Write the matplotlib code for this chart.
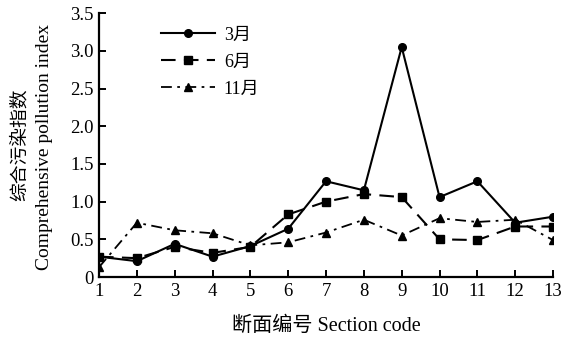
import numpy as np
import matplotlib
matplotlib.use('Agg')
import matplotlib.pyplot as plt
from matplotlib.ticker import FuncFormatter

# Section codes and comprehensive pollution index per sampling month
sections = [1, 2, 3, 4, 5, 6, 7, 8, 9, 10, 11, 12, 13]
march = [0.27, 0.21, 0.44, 0.27, 0.41, 0.64, 1.27, 1.15, 3.05, 1.06, 1.27, 0.72, 0.80]
june = [0.27, 0.25, 0.40, 0.32, 0.40, 0.83, 1.00, 1.10, 1.06, 0.50, 0.49, 0.67, 0.67]
november = [0.13, 0.72, 0.62, 0.58, 0.42, 0.46, 0.59, 0.76, 0.55, 0.78, 0.73, 0.76, 0.49]
series_labels = ['3月', '6月', '11月']
y_ticks = [0, 0.5, 1.0, 1.5, 2.0, 2.5, 3.0, 3.5]

fonts = ['Liberation Serif', 'Noto Sans CJK SC']
plt.rcParams['font.family'] = fonts

fig = plt.figure(figsize=(5.74, 3.37), dpi=100)
ax = fig.add_axes([0.1725, 0.178, 0.791, 0.783])

ax.plot(sections, march, color='black', linestyle='-', linewidth=1.5,
        marker='o', markersize=5.5, label=series_labels[0])
ax.plot(sections, june, color='black', linestyle=(0, (7, 4)), linewidth=1.5,
        marker='s', markersize=5.5, label=series_labels[1])
ax.plot(sections, november, color='black', linestyle=(0, (6, 3, 1.5, 3)), linewidth=1.3,
        marker='^', markersize=5.5, label=series_labels[2])

ax.set_xlim(1, 13)
ax.set_ylim(0, 3.5)
ax.set_xticks(sections)
ax.set_yticks(y_ticks)
ax.yaxis.set_major_formatter(FuncFormatter(lambda v, p: '0' if v == 0 else '%.1f' % v))

ax.spines['top'].set_visible(False)
ax.spines['right'].set_visible(False)
ax.spines['left'].set_linewidth(1.6)
ax.spines['bottom'].set_linewidth(1.6)
ax.tick_params(direction='in', length=5, width=1.4, labelsize=13.5, pad=4)

# two-line y label, Chinese and English set separately
fig.text(0.035, 0.57, '综合污染指数', rotation=90, fontsize=13.5, ha='center', va='center')
fig.text(0.078, 0.565, 'Comprehensive pollution index', rotation=90, fontsize=14,
         ha='center', va='center')
ax.set_xlabel('断面编号 Section code', fontsize=14.5, labelpad=12)

ax.legend(loc='upper left', bbox_to_anchor=(0.1, 1.01), frameon=False, fontsize=13,
          handlelength=3.0, labelspacing=0.55, handletextpad=0.5)

fig.savefig('out.png', dpi=100)
